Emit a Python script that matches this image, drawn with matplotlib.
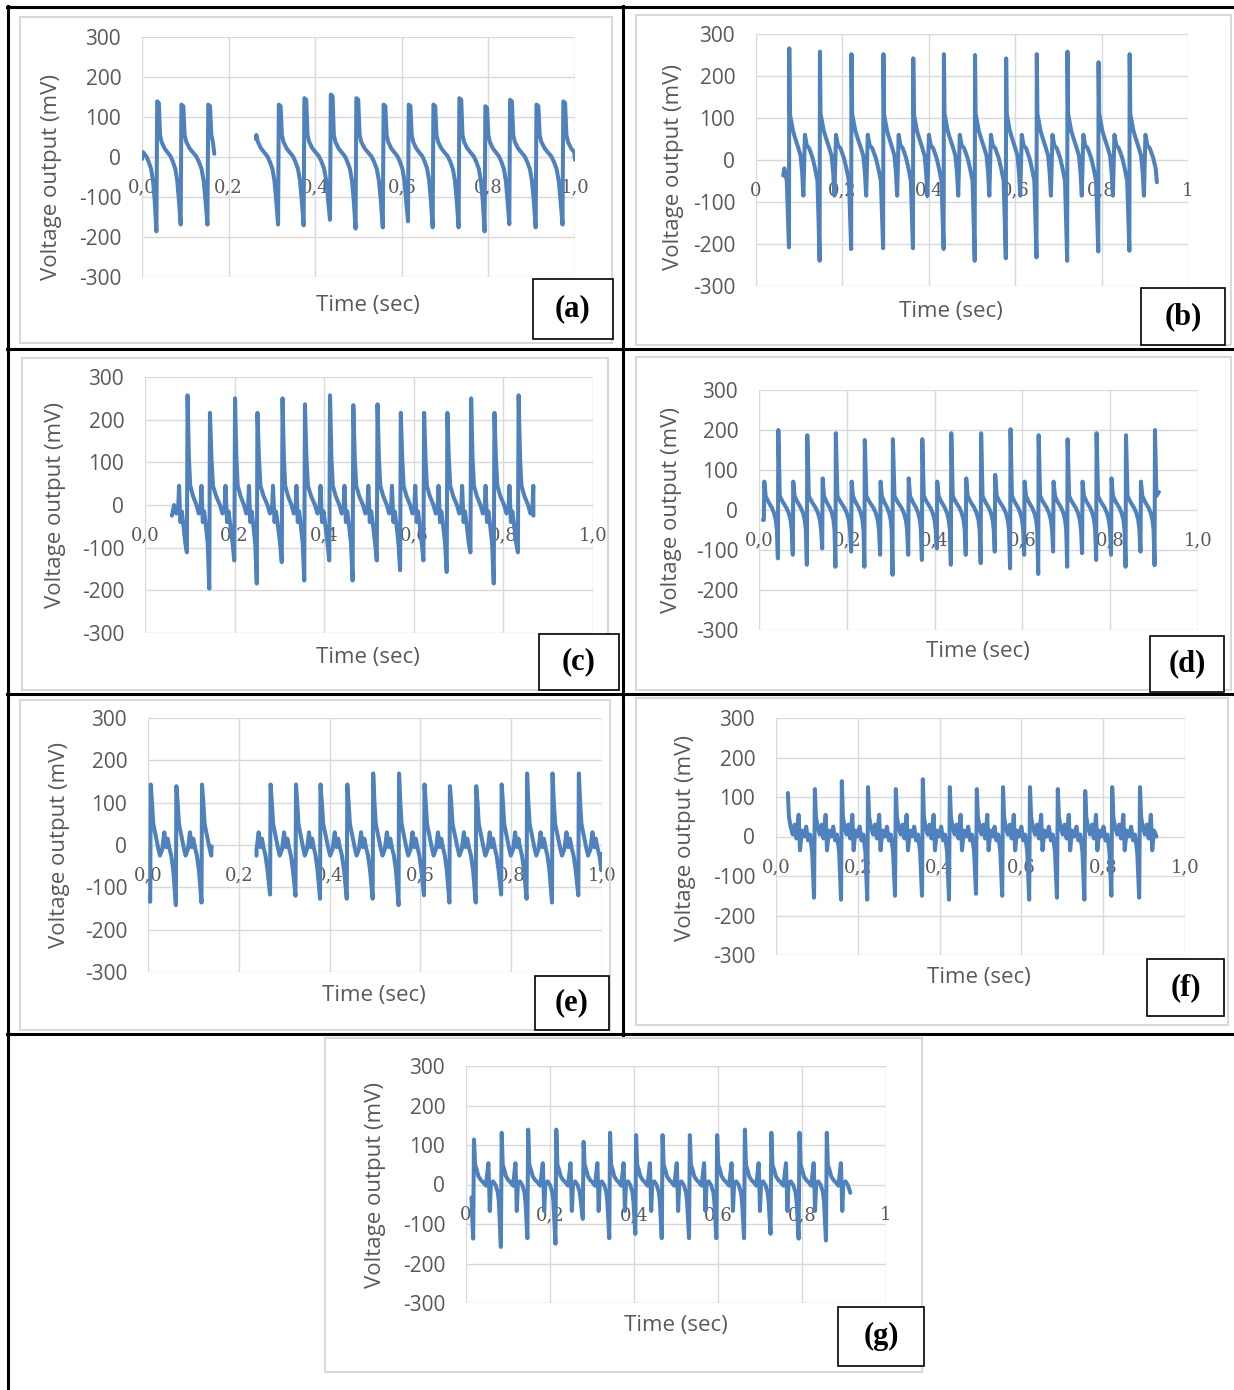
import numpy as np
import matplotlib.pyplot as plt
from matplotlib.patches import Rectangle
from matplotlib.lines import Line2D

W, H = 1234, 1390
BLUE = '#4F81BD'
GRID = '#D9D9D9'
TXT = '#595959'

# ---------------- data (time in s, voltage in mV) ----------------
# (a) two pieces with a gap around 0.17-0.26 s
a1_peak_t = [0.035, 0.091, 0.153]
a1_peak_v = [139, 131, 131]
a1_trough_v = [-186, -169, -169]
a1_start = (0.0, -5)
a1_end = (0.167, 8)
a2_peak_t = [0.316, 0.375, 0.436, 0.495, 0.558, 0.616, 0.673, 0.733, 0.793, 0.850, 0.911, 0.973]
a2_peak_v = [131, 147, 156, 147, 131, 131, 131, 147, 127, 143, 131, 139]
a2_trough_v = [-169, -171, -157, -179, -176, -161, -176, -176, -186, -168, -176, -169]
a2_start = (0.263, 45)
a2_end = (1.0, -7)
a_shape_ph = [0.12, 0.18, 0.30, 0.42, 0.55, 0.65, 0.75, 0.83, 0.90]
a_shape_v = [55, 38, 22, 12, 2, -12, -30, -60, -110]

# (b)
b_peak_t = [0.077, 0.148, 0.221, 0.295, 0.364, 0.435, 0.507, 0.579, 0.650, 0.721, 0.793, 0.865]
b_peak_v = [266, 258, 252, 252, 242, 252, 250, 242, 252, 258, 233, 252]
b_trough_v = [-208, -240, -212, -210, -210, -212, -240, -234, -232, -240, -218, -216]
b_start = (0.063, -37)
b_end = (0.928, -53)
b_shape_ph = [0.02, 0.12, 0.18, 0.29, 0.37, 0.42, 0.46, 0.51, 0.57, 0.65, 0.76, 0.84, 0.92]
b_shape_v = [110, 70, 55, 30, 10, -30, -85, 60, 35, 28, 5, -20, -50]

# (c)
c_peak_t = [0.095, 0.145, 0.201, 0.251, 0.307, 0.357, 0.413, 0.465, 0.519, 0.571, 0.623, 0.675,
            0.728, 0.780, 0.834]
c_peak_v = [257, 216, 250, 216, 250, 236, 257, 234, 236, 216, 216, 216, 250, 216, 257]
c_trough_v = [-111, -196, -130, -184, -134, -177, -130, -177, -130, -153, -130, -157, -111, -184, -111]
c_start = (0.060, -25)
c_end = (0.867, -25)
c_shape_ph = [0.06, 0.12, 0.25, 0.40, 0.50, 0.58, 0.62, 0.68, 0.74, 0.82, 0.90]
c_shape_v = [110, 45, 20, 0, -20, -10, 45, -40, -15, -50, -90]

# (d) alternating tall / short beats
d_peak_t = [0.012, 0.044, 0.078, 0.110, 0.145, 0.175, 0.211, 0.241, 0.277, 0.305, 0.341, 0.372,
            0.406, 0.438, 0.472, 0.506, 0.538, 0.573, 0.605, 0.637, 0.671, 0.703, 0.737, 0.769,
            0.803, 0.836, 0.870, 0.902]
d_peak_v = [71, 200, 71, 187, 79, 192, 71, 175, 71, 177, 79, 177, 71, 192, 79, 192, 88, 202,
            71, 187, 71, 177, 71, 192, 79, 187, 71, 200]
d_trough_v = [-25, -121, -112, -137, -96, -142, -104, -142, -112, -162, -112, -125, -96, -137,
              -112, -133, -104, -146, -112, -160, -104, -142, -108, -125, -112, -142, -104, -138]
d_start = (0.009, -25)
d_end = (0.911, 45)
d_shape_ph = [0.10, 0.30, 0.55, 0.70, 0.82, 0.90]
d_shape_v = [35, 20, 5, -8, -25, -50]

# (e) two pieces with a gap around 0.14-0.24 s
e1_peak_t = [0.006, 0.0625, 0.119]
e1_peak_v = [143, 139, 143]
e1_trough_v = [-134, -142, -136]
e1_start = (0.0, -120)
e1_end = (0.140, -3)
e2_peak_t = [0.270, 0.326, 0.380, 0.439, 0.496, 0.553, 0.609, 0.665, 0.723, 0.779, 0.835, 0.891, 0.949]
e2_peak_v = [143, 143, 143, 143, 169, 169, 143, 139, 139, 143, 169, 169, 169]
e2_trough_v = [-117, -120, -127, -127, -127, -142, -119, -136, -136, -117, -127, -136, -119]
e2_start = (0.239, -25)
e2_end = (1.0, -21)
e_shape_ph = [0.05, 0.10, 0.20, 0.30, 0.36, 0.45, 0.53, 0.60, 0.66, 0.72, 0.80, 0.88]
e_shape_v = [100, 50, 20, -10, -25, -10, 30, -5, 15, -5, -25, -60]

# (f)
f_peak_t = [0.095, 0.161, 0.225, 0.293, 0.359, 0.425, 0.491, 0.555, 0.621, 0.689, 0.756, 0.822, 0.890]
f_peak_v = [120, 140, 125, 120, 145, 125, 120, 125, 125, 120, 115, 125, 125]
f_trough_v = [-155, -160, -160, -150, -150, -160, -145, -150, -160, -155, -160, -150, -155]
f_start = (0.029, 110)
f_end = (0.930, 0)
f_shape_ph = [0.04, 0.10, 0.18, 0.25, 0.32, 0.40, 0.45, 0.52, 0.60, 0.68, 0.75, 0.82, 0.90]
f_shape_v = [50, 25, 5, 30, -5, 55, -35, 15, 0, 25, -10, 5, -40]

# (g)
g_peak_t = [0.019, 0.085, 0.148, 0.215, 0.280, 0.343, 0.405, 0.468, 0.533, 0.598, 0.664, 0.727,
            0.794, 0.859]
g_peak_v = [114, 131, 139, 139, 108, 131, 125, 125, 125, 125, 139, 131, 131, 131]
g_trough_v = [-137, -158, -136, -150, -87, -136, -125, -136, -136, -136, -136, -125, -137, -142]
g_start = (0.013, -33)
g_end = (0.915, -21)
g_shape_ph = [0.04, 0.10, 0.16, 0.24, 0.34, 0.43, 0.52, 0.55, 0.57, 0.61, 0.69, 0.78, 0.86, 0.90]
g_shape_v = [50, 37, 21, 12, 5, -3, 54, -10, -67, 0, 8, -2, -20, -45]

xlab_comma = ['0,0', '0,2', '0,4', '0,6', '0,8', '1,0']
xlab_short = ['0', '0,2', '0,4', '0,6', '0,8', '1']
y_ticks = [-300, -200, -100, 0, 100, 200, 300]


def trace(peak_t, peak_v, trough_v, start, end, shape_ph, shape_v, trough_ph=0.97, hold=0.0):
    # join the beats read above: trough -> peak -> shape of the beat -> next trough
    peak_t = np.asarray(peak_t, float)
    per = np.diff(peak_t)
    per = np.append(per, per.mean())
    t, v = [start[0]], [start[1]]
    t0 = peak_t[0] - per[0]
    for ph, lv in zip(shape_ph, shape_v):
        if t0 + ph * per[0] > start[0] + 1e-4:
            t.append(t0 + ph * per[0]); v.append(lv)
    for i, tp in enumerate(peak_t):
        prev = per[i - 1] if i else per[0]
        t += [tp - (1 - trough_ph) * prev, tp]
        v += [trough_v[i], peak_v[i]]
        if hold:
            t.append(tp + hold * per[i]); v.append(peak_v[i] - 4)
        for ph, lv in zip(shape_ph, shape_v):
            tt = tp + ph * per[i]
            if tt >= end[0]:
                break
            t.append(tt); v.append(lv)
    t.append(end[0]); v.append(end[1])
    return t, v


def fig_box(x0, y0, x1, y1):
    return [x0 / W, 1 - y1 / H, (x1 - x0) / W, (y1 - y0) / H]


fig = plt.figure(figsize=(W / 100, H / 100), dpi=100, facecolor='white')

# table lines
def hline(y, x0, x1):
    fig.add_artist(Line2D([x0 / W, x1 / W], [1 - y / H] * 2, color='black', lw=2.2))

def vline(x, y0, y1):
    fig.add_artist(Line2D([x / W] * 2, [1 - y0 / H, 1 - y1 / H], color='black', lw=2.2))

hline(7, 7, 1234)
hline(349, 7, 1234)
hline(694, 7, 1234)
hline(1034, 7, 1234)
vline(8, 6, 1390)
vline(623, 6, 1035)

panels = [
    # plot area, chart frame, ylabel pos, xlabel pos, tag box, tag, x labels, segments
    ((142, 37, 575, 277), (20, 17, 612, 343), (52, 177), (368, 306), (533, 279, 613, 339), '(a)', xlab_comma,
     [trace(a1_peak_t, a1_peak_v, a1_trough_v, a1_start, a1_end, a_shape_ph, a_shape_v, hold=0.07),
      trace(a2_peak_t, a2_peak_v, a2_trough_v, a2_start, a2_end, a_shape_ph, a_shape_v, hold=0.07)]),
    ((756, 34, 1188, 286), (636, 15, 1231, 345), (673, 167), (951, 311), (1141, 288, 1225, 345), '(b)', xlab_short,
     [trace(b_peak_t, b_peak_v, b_trough_v, b_start, b_end, b_shape_ph, b_shape_v, trough_ph=0.99)]),
    ((145, 377, 593, 633), (22, 358, 608, 690), (56, 505), (368, 657), (539, 634, 619, 690), '(c)', xlab_comma,
     [trace(c_peak_t, c_peak_v, c_trough_v, c_start, c_end, c_shape_ph, c_shape_v)]),
    ((759, 390, 1198, 630), (636, 357, 1231, 690), (672, 510), (978, 652), (1150, 636, 1224, 692), '(d)', xlab_comma,
     [trace(d_peak_t, d_peak_v, d_trough_v, d_start, d_end, d_shape_ph, d_shape_v)]),
    ((148, 718, 602, 972), (20, 700, 610, 1030), (60, 845), (374, 996), (535, 976, 609, 1030), '(e)', xlab_comma,
     [trace(e1_peak_t, e1_peak_v, e1_trough_v, e1_start, e1_end, e_shape_ph, e_shape_v, trough_ph=0.98),
      trace(e2_peak_t, e2_peak_v, e2_trough_v, e2_start, e2_end, e_shape_ph, e_shape_v, trough_ph=0.98)]),
    ((776, 718, 1185, 955), (636, 698, 1228, 1025), (686, 838), (979, 978), (1147, 959, 1224, 1016), '(f)', xlab_comma,
     [trace(f_peak_t, f_peak_v, f_trough_v, f_start, f_end, f_shape_ph, f_shape_v)]),
    ((466, 1066, 886, 1303), (325, 1038, 922, 1372), (376, 1185), (676, 1326), (838, 1307, 924, 1366), '(g)', xlab_short,
     [trace(g_peak_t, g_peak_v, g_trough_v, g_start, g_end, g_shape_ph, g_shape_v)]),
]

for plot_px, frame_px, ylab_px, xlab_px, tag_px, tag, xlabels, segs in panels:
    fx0, fy0, fx1, fy1 = frame_px
    fig.add_artist(Rectangle((fx0 / W, 1 - fy1 / H), (fx1 - fx0) / W, (fy1 - fy0) / H,
                             transform=fig.transFigure, fill=False, ec=GRID, lw=1.5))

    ax = fig.add_axes(fig_box(*plot_px))
    ax.set_xlim(0, 1)
    ax.set_ylim(-300, 300)
    xt = np.linspace(0, 1, 6)
    ax.set_xticks(xt)
    ax.set_yticks(y_ticks)
    ax.set_yticklabels([str(v) for v in y_ticks], fontfamily='Open Sans', fontsize=15, color=TXT)
    ax.tick_params(length=0, labelbottom=False, pad=15)
    ax.grid(True, color=GRID, lw=1.0, zorder=0)
    ax.set_axisbelow(True)
    for s in ax.spines.values():
        s.set_visible(False)
    ax.set_facecolor('none')

    for xv, lbl in zip(xt, xlabels):
        ax.annotate(lbl, (xv, 0), xytext=(0, -22), textcoords='offset points', ha='center', va='center',
                    fontfamily='DejaVu Serif', fontsize=13, color=TXT, zorder=1, annotation_clip=False)

    for t, v in segs:
        ax.plot(t, v, color=BLUE, lw=2.9, solid_joinstyle='round', solid_capstyle='round', zorder=3)

    fig.text(ylab_px[0] / W, 1 - ylab_px[1] / H, 'Voltage output (mV)', rotation=90, ha='center', va='center',
             fontfamily='Open Sans', fontsize=16, color=TXT)
    fig.text(xlab_px[0] / W, 1 - xlab_px[1] / H, 'Time (sec)', ha='center', va='center',
             fontfamily='Open Sans', fontsize=16, color=TXT)

    bx0, by0, bx1, by1 = tag_px
    fig.add_artist(Rectangle((bx0 / W, 1 - by1 / H), (bx1 - bx0) / W, (by1 - by0) / H,
                             transform=fig.transFigure, fc='white', ec='black', lw=1.2))
    fig.text((bx0 + bx1) / 2 / W, 1 - (by0 + by1) / 2 / H, tag, ha='center', va='center',
             fontfamily='Liberation Serif', fontweight='bold', fontsize=22, color='black')

fig.savefig('out.png', dpi=100, facecolor='white')
